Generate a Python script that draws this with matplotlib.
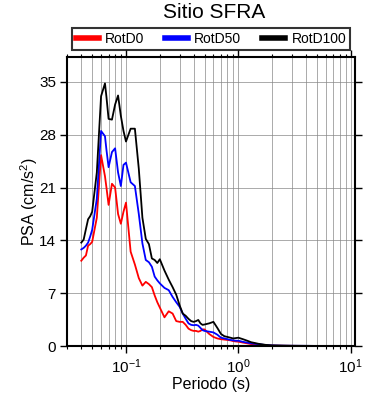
import matplotlib
matplotlib.use("Agg")
import matplotlib.pyplot as plt
from matplotlib.ticker import LogLocator, FixedLocator, NullFormatter

plt.rcParams["font.family"] = ["Liberation Sans", "DejaVu Sans"]
plt.rcParams["mathtext.fontset"] = "custom"
plt.rcParams["mathtext.rm"] = "Liberation Sans"
plt.rcParams["mathtext.it"] = "Liberation Sans"

# periodos (s)
periodos = [0.04, 0.042, 0.044, 0.046, 0.048, 0.05, 0.055, 0.06, 0.065, 0.067,
            0.07, 0.075, 0.08, 0.085, 0.09, 0.095, 0.1, 0.11, 0.12, 0.13,
            0.14, 0.15, 0.16, 0.17, 0.18, 0.19, 0.20, 0.22, 0.24, 0.26,
            0.28, 0.30, 0.32, 0.34, 0.36, 0.38, 0.40, 0.42, 0.44, 0.46,
            0.48, 0.50, 0.55, 0.60, 0.65, 0.70, 0.75, 0.80, 0.85, 0.90,
            0.95, 1.0, 1.1, 1.2, 1.3, 1.4, 1.5, 1.75, 2.0, 2.5,
            3.0, 4.0, 5.0, 7.5, 10.0]

rotd100 = [13.7, 14.1, 15.5, 16.8, 17.2, 17.8, 23.0, 33.1, 34.8, 33.0,
           30.1, 30.0, 32.0, 33.2, 30.5, 28.5, 27.1, 28.8, 28.8, 23.5,
           17.0, 14.2, 13.5, 11.6, 11.4, 11.0, 11.5, 10.0, 8.8, 7.8,
           6.8, 5.4, 4.3, 4.0, 3.6, 3.3, 3.2, 3.3, 3.45, 3.0,
           2.8, 2.85, 3.0, 3.2, 2.4, 1.6, 1.3, 1.2, 1.1, 1.0,
           1.05, 1.1, 0.9, 0.7, 0.5, 0.4, 0.3, 0.15, 0.08, 0.05,
           0.03, 0.02, 0.01, 0.01, 0.01]

rotd50 = [12.8, 13.0, 13.3, 13.7, 14.5, 15.4, 19.5, 28.5, 27.8, 26.0,
          23.7, 25.7, 26.2, 23.0, 21.2, 24.0, 24.3, 21.7, 21.2, 17.5,
          13.6, 11.4, 11.1, 10.5, 9.2, 8.7, 8.3, 7.7, 7.4, 6.5,
          5.8, 5.2, 4.3, 3.6, 3.0, 2.8, 2.75, 2.8, 2.7, 2.4,
          2.1, 2.0, 1.9, 1.8, 1.5, 1.1, 1.0, 0.9, 0.8, 0.75,
          0.7, 0.7, 0.55, 0.45, 0.35, 0.3, 0.25, 0.12, 0.07, 0.04,
          0.03, 0.02, 0.01, 0.01, 0.01]

rotd0 = [11.3, 11.7, 12.0, 13.3, 13.5, 13.8, 17.0, 25.3, 22.5, 21.0,
         18.7, 21.5, 21.0, 17.5, 16.2, 17.8, 19.0, 12.5, 10.8, 9.0,
         8.0, 8.5, 8.2, 7.8, 6.7, 5.8, 5.1, 3.8, 4.6, 4.3,
         3.3, 3.2, 3.2, 2.8, 2.3, 2.1, 2.0, 2.0, 1.9, 2.0,
         2.2, 2.2, 1.6, 1.2, 1.0, 0.9, 0.85, 0.8, 0.75, 0.65,
         0.6, 0.57, 0.45, 0.35, 0.25, 0.2, 0.15, 0.08, 0.05, 0.03,
         0.02, 0.01, 0.01, 0.01, 0.01]

yticks = [0, 7, 14, 21, 28, 35]

fig = plt.figure(figsize=(3.9, 4.0), dpi=100)
ax = fig.add_axes([0.172, 0.135, 0.738, 0.7225])

ax.plot(periodos, rotd0, color="red", lw=1.3, label="RotD0")
ax.plot(periodos, rotd50, color="blue", lw=1.3, label="RotD50")
ax.plot(periodos, rotd100, color="black", lw=1.3, label="RotD100")

ax.set_xscale("log")
ax.set_xlim(0.0299, 10.9)
ax.set_ylim(0, 38.3)
ax.yaxis.set_major_locator(FixedLocator(yticks))
ax.xaxis.set_major_locator(LogLocator(base=10))
ax.xaxis.set_minor_locator(LogLocator(base=10, subs=range(2, 10)))
ax.xaxis.set_minor_formatter(NullFormatter())

ax.grid(True, which="both", axis="x", color="#888888", lw=0.5)
ax.grid(True, which="major", axis="y", color="#888888", lw=0.5)
ax.set_axisbelow(True)

ax.tick_params(which="major", direction="out", length=5, width=1,
               top=True, right=True, labelsize=11, pad=3)
ax.tick_params(which="minor", direction="out", length=2.5, width=0.8,
               top=True, right=False)
for s in ax.spines.values():
    s.set_linewidth(1.5)

ax.set_xlabel("Periodo (s)", fontsize=11.5, labelpad=1)
ax.set_ylabel("PSA (cm/s$^2$)", fontsize=11.5, labelpad=-1)
fig.text(0.549, 0.97, "Sitio SFRA", fontsize=15, ha="center", va="center")

leg = ax.legend(loc="lower center", bbox_to_anchor=(0.5, 1.024), ncol=3,
                fontsize=10, frameon=True, fancybox=False, edgecolor="black",
                handlelength=1.65, columnspacing=1.5, borderpad=0.3,
                handletextpad=0.45, borderaxespad=0)
leg.get_frame().set_linewidth(1.5)
for l in leg.get_lines():
    l.set_linewidth(4)

fig.savefig("out.png", dpi=100)
